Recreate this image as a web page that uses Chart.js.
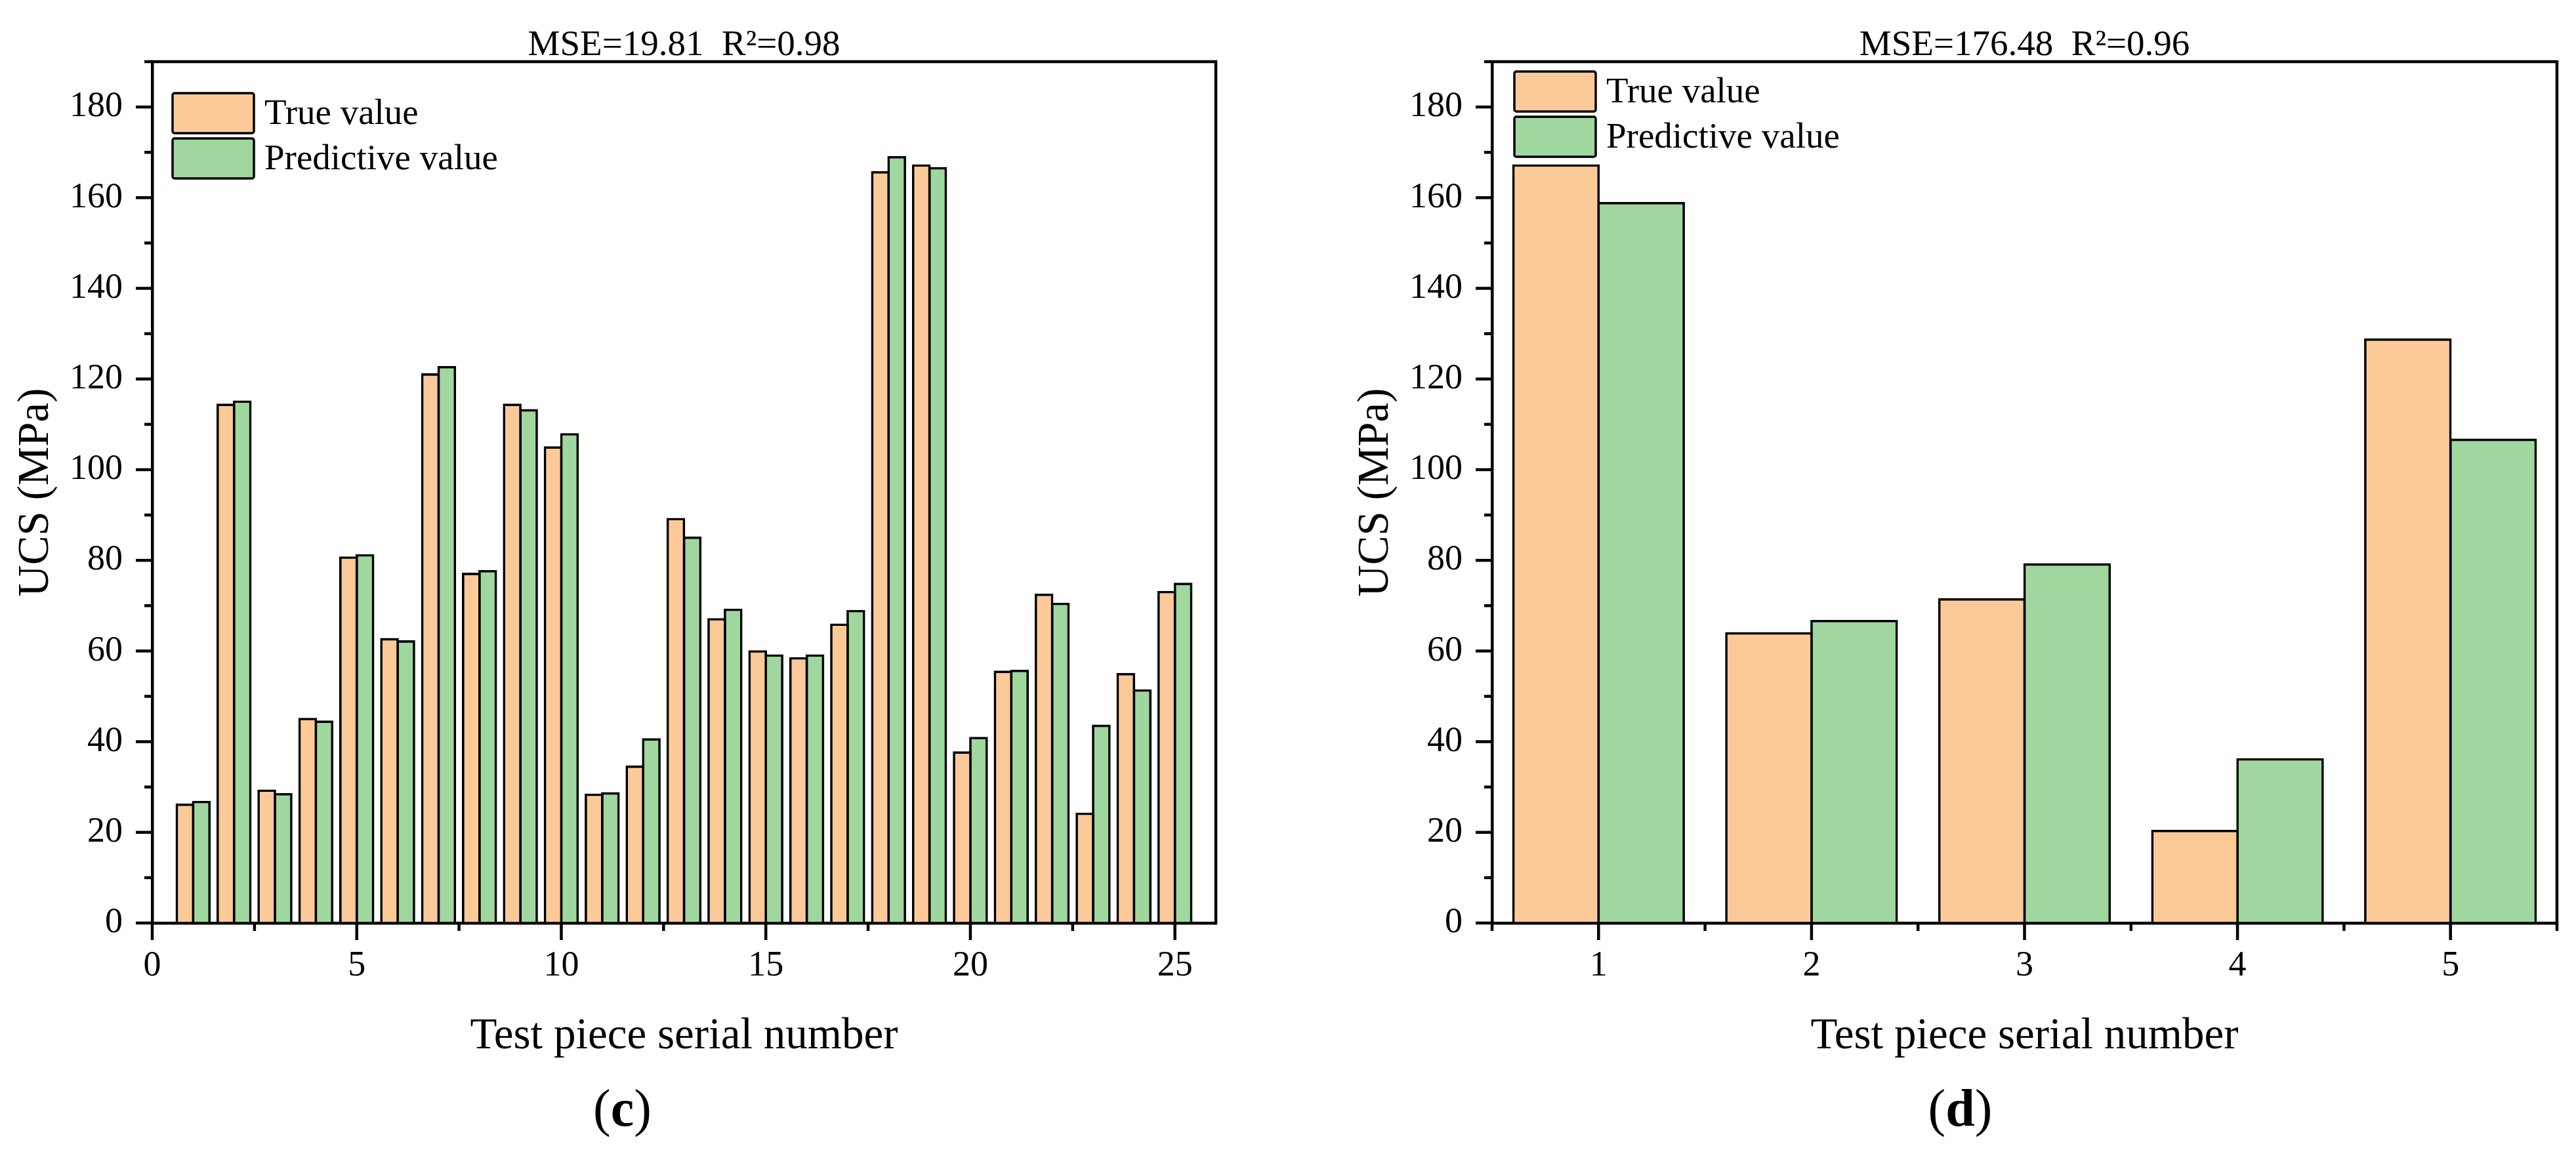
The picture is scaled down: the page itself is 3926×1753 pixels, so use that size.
<!DOCTYPE html>
<html>
<head>
<meta charset="utf-8">
<script src="https://cdn.jsdelivr.net/npm/chart.js@4.4.1/dist/chart.umd.min.js"></script>
<style>
  html, body { margin: 0; padding: 0; background: #ffffff; }
  #wrap { position: relative; width: 3926px; height: 1753px; overflow: hidden; background: #ffffff; }
  canvas { position: absolute; top: 0; }
</style>
</head>
<body>
<div id="wrap">
  <canvas id="chartC" width="1963" height="1753" style="left:0px;width:1963px;height:1753px;"></canvas>
  <canvas id="chartD" width="1963" height="1753" style="left:1963px;width:1963px;height:1753px;"></canvas>
</div>
<script>
// ---------------- data ----------------
const serialC = [1, 2, 3, 4, 5, 6, 7, 8, 9, 10, 11, 12, 13, 14, 15, 16, 17, 18, 19, 20, 21, 22, 23, 24, 25];
const trueC = [26.1, 114.3, 29.2, 45.0, 80.6, 62.6, 121.0, 77.0, 114.3, 104.9, 28.3, 34.5, 89.1, 67.0, 59.9, 58.4, 65.8, 165.6, 167.1, 37.6, 55.4, 72.4, 24.1, 54.9, 73.0];
const predC = [26.7, 115.0, 28.4, 44.4, 81.1, 62.1, 122.6, 77.6, 113.1, 107.8, 28.6, 40.5, 85.0, 69.1, 59.0, 59.0, 68.8, 168.9, 166.5, 40.8, 55.6, 70.4, 43.5, 51.3, 74.8];

const serialD = ['1', '2', '3', '4', '5'];
const trueD = [167.1, 63.9, 71.4, 20.3, 128.7];
const predD = [158.8, 66.6, 79.1, 36.1, 106.6];

const seriesLabels = ['True value', 'Predictive value'];
const titleC = 'MSE=19.81  R\u00B2=0.98';
const titleD = 'MSE=176.48  R\u00B2=0.96';
const xTitle = 'Test piece serial number';
const yTitle = 'UCS (MPa)';
const panelC = 'c';
const panelD = 'd';

// ---------------- style ----------------
const FONT = "'Liberation Serif', 'Times New Roman', Times, serif";
const ORANGE = '#FCCA99';
const GREEN = '#A0D79E';
const AXIS_W = 4.5;

Chart.defaults.font.family = FONT;
Chart.defaults.color = '#000000';

function makeDecor(cfg) {
  return {
    id: 'decor',
    afterDraw(chart) {
      const ctx = chart.ctx;
      const a = chart.chartArea;
      const xs = chart.scales.x, ys = chart.scales.y;
      ctx.save();
      ctx.strokeStyle = '#000000';
      ctx.lineWidth = AXIS_W;
      ctx.lineCap = 'butt';
      ctx.lineJoin = 'miter';
      // top + right frame
      ctx.beginPath();
      ctx.moveTo(a.left - AXIS_W / 2, a.top);
      ctx.lineTo(a.right, a.top);
      ctx.lineTo(a.right, a.bottom + AXIS_W / 2);
      ctx.stroke();
      // y ticks (major every 20, minor every 10)
      for (let v = ys.min; v <= ys.max + 1e-9; v += 10) {
        const p = ys.getPixelForValue(v);
        const len = (Math.round(v) % 20 === 0) ? 25 : 12;
        ctx.beginPath();
        ctx.moveTo(a.left, p);
        ctx.lineTo(a.left - len, p);
        ctx.stroke();
      }
      // x ticks
      const majors = xs.ticks.map(t => t.value);
      majors.forEach(v => {
        const p = xs.getPixelForValue(v);
        ctx.beginPath();
        ctx.moveTo(p, a.bottom);
        ctx.lineTo(p, a.bottom + 26);
        ctx.stroke();
      });
      const minors = [];
      const half = cfg.xStep / 2;
      minors.push(majors[0] - half);
      majors.forEach(v => minors.push(v + half));
      minors.forEach(v => {
        const p = xs.getPixelForValue(v);
        if (p < a.left - 1 || p > a.right + 1) return;
        ctx.beginPath();
        ctx.moveTo(p, a.bottom);
        ctx.lineTo(p, a.bottom + 12);
        ctx.stroke();
      });
      // legend
      const bw = 124, bh = 61, step = 69;
      ctx.font = '55px ' + FONT;
      ctx.textAlign = 'left';
      ctx.textBaseline = 'middle';
      chart.data.datasets.forEach((ds, i) => {
        const bx = a.left + cfg.legendDx;
        const by = a.top + cfg.legendDy + i * step;
        ctx.beginPath();
        if (ctx.roundRect) ctx.roundRect(bx, by, bw, bh, 3); else ctx.rect(bx, by, bw, bh);
        ctx.fillStyle = ds.backgroundColor;
        ctx.fill();
        ctx.lineWidth = 3.5;
        ctx.stroke();
        ctx.fillStyle = '#000000';
        ctx.fillText(ds.label, bx + bw + 16, by + bh / 2 + 2);
      });
      // panel label "(x)" with bold letter
      const fs = 80;
      const fN = fs + 'px ' + FONT, fB = 'bold ' + fs + 'px ' + FONT;
      ctx.font = fN; const wL = ctx.measureText('(').width; const wR = ctx.measureText(')').width;
      ctx.font = fB; const wC = ctx.measureText(cfg.panel).width;
      const total = wL + wC + wR;
      let x0 = (a.left + a.right) / 2 + cfg.panelDx - total / 2;
      const yb = 1716;
      ctx.textBaseline = 'alphabetic';
      ctx.font = fN; ctx.fillText('(', x0, yb);
      ctx.font = fB; ctx.fillText(cfg.panel, x0 + wL, yb);
      ctx.font = fN; ctx.fillText(')', x0 + wL + wC, yb);
      ctx.restore();
    }
  };
}

function yScale() {
  return {
    type: 'linear',
    min: 0, max: 190,
    grid: { display: false, drawTicks: false, drawOnChartArea: false },
    border: { display: true, width: AXIS_W, color: '#000000' },
    ticks: { stepSize: 20, includeBounds: false, padding: 45, color: '#000000', font: { family: FONT, size: 54 } },
    title: { display: true, text: yTitle, color: '#000000', font: { family: FONT, size: 67 }, padding: { top: 15, bottom: 0 } },
    afterFit(s) { s.width = 232; }
  };
}

function xTitleCfg() {
  return { display: true, text: xTitle, color: '#000000', font: { family: FONT, size: 67 }, padding: { top: 0, bottom: 132 } };
}

function commonPlugins(title) {
  return {
    legend: { display: false },
    tooltip: { enabled: false },
    title: { display: true, text: title, fullSize: false, color: '#000000', font: { family: FONT, size: 55, weight: 'normal' }, padding: { top: 37, bottom: -9 } }
  };
}

function barDs(label, data, color) {
  return {
    label: label, data: data,
    backgroundColor: color, borderColor: '#000000', borderWidth: 3.6, inflateAmount: 1.8,
    borderSkipped: false, categoryPercentage: 0.8, barPercentage: 1.0
  };
}

// ---------------- chart (c) ----------------
new Chart(document.getElementById('chartC'), {
  type: 'bar',
  data: {
    datasets: [
      barDs(seriesLabels[0], serialC.map((s, i) => ({ x: s, y: trueC[i] })), ORANGE),
      barDs(seriesLabels[1], serialC.map((s, i) => ({ x: s, y: predC[i] })), GREEN)
    ]
  },
  options: {
    responsive: false, animation: false, devicePixelRatio: 1,
    layout: { padding: { left: 0, right: 110, top: 0, bottom: 0 } },
    plugins: commonPlugins(titleC),
    scales: {
      x: {
        type: 'linear', min: 0, max: 26, offset: false,
        grid: { display: false, drawTicks: false, drawOnChartArea: false, offset: false },
        border: { display: true, width: AXIS_W, color: '#000000' },
        ticks: { stepSize: 5, includeBounds: false, autoSkip: false, maxRotation: 0, padding: 33, color: '#000000', font: { family: FONT, size: 54 } },
        title: xTitleCfg(),
        afterFit(s) { s.height = 346; }
      },
      y: yScale()
    }
  },
  plugins: [makeDecor({ xStep: 5, legendDx: 31, legendDy: 48, panel: panelC, panelDx: -94 })]
});

// ---------------- chart (d) ----------------
new Chart(document.getElementById('chartD'), {
  type: 'bar',
  data: {
    labels: serialD,
    datasets: [
      barDs(seriesLabels[0], trueD, ORANGE),
      barDs(seriesLabels[1], predD, GREEN)
    ]
  },
  options: {
    responsive: false, animation: false, devicePixelRatio: 1,
    layout: { padding: { left: 79, right: 29, top: 0, bottom: 0 } },
    plugins: commonPlugins(titleD),
    scales: {
      x: {
        type: 'category', offset: true,
        grid: { display: false, drawTicks: false, drawOnChartArea: false },
        border: { display: true, width: AXIS_W, color: '#000000' },
        ticks: { autoSkip: false, maxRotation: 0, padding: 33, color: '#000000', font: { family: FONT, size: 54 } },
        title: xTitleCfg(),
        afterFit(s) { s.height = 346; }
      },
      y: yScale()
    }
  },
  plugins: [makeDecor({ xStep: 1, legendDx: 34, legendDy: 15, panel: panelD, panelDx: -98 })]
});
</script>
</body>
</html>
